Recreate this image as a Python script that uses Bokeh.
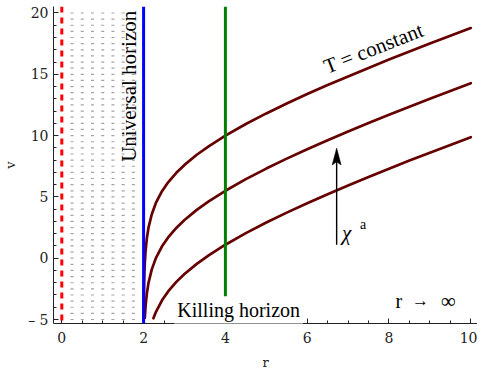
import numpy as np
from bokeh.plotting import figure
from bokeh.models import Label, Span, SingleIntervalTicker, Range1d
from bokeh.embed import file_html
from bokeh.resources import INLINE

# ---- data: curves of T = constant (v vs r) ----
r_top = [2.003, 2.006, 2.01, 2.02, 2.03, 2.05, 2.08, 2.12, 2.2, 2.3, 2.45, 2.6, 2.8, 3.0, 3.3, 3.6,
         4.0, 4.5, 5.0, 5.5, 6.0, 6.5, 7.0, 7.5, 8.0, 8.5, 9.0, 9.5, 10.0]
v_top = [-5.00, -3.61, -2.59, -1.19, -0.37, 0.67, 1.64, 2.49, 3.59, 4.51, 5.47, 6.19, 6.97, 7.61, 8.44, 9.15,
         10.00, 10.95, 11.81, 12.62, 13.39, 14.12, 14.83, 15.52, 16.20, 16.86, 17.51, 18.14, 18.77]
r_mid = [2.03, 2.05, 2.08, 2.12, 2.2, 2.3, 2.45, 2.6, 2.8, 3.0, 3.3, 3.6,
         4.0, 4.5, 5.0, 5.5, 6.0, 6.5, 7.0, 7.5, 8.0, 8.5, 9.0, 9.5, 10.0]
v_mid = [-4.87, -3.83, -2.86, -2.01, -0.91, 0.01, 0.97, 1.69, 2.47, 3.11, 3.94, 4.65,
         5.50, 6.45, 7.31, 8.12, 8.89, 9.62, 10.33, 11.02, 11.70, 12.36, 13.01, 13.64, 14.27]
r_bot = [2.24, 2.3, 2.45, 2.6, 2.8, 3.0, 3.3, 3.6, 4.0, 4.5, 5.0, 5.5, 6.0, 6.5, 7.0, 7.5, 8.0, 8.5, 9.0, 9.5, 10.0]
v_bot = [-4.90, -4.39, -3.43, -2.71, -1.93, -1.29, -0.46, 0.25, 1.10, 2.05, 2.91, 3.72, 4.49, 5.22, 5.93, 6.62,
         7.30, 7.96, 8.61, 9.24, 9.87]

# vertical lines
r_singularity = 0
r_universal = 2
r_killing = 4

# hatched (dotted) region between r = 0 and r = 2
hatch_cols = [0.25, 0.5, 0.75, 1.0, 1.25, 1.5, 1.75]
hatch_rows = [v / 2 for v in range(-10, 41)]

x_ticks_interval = 2
y_ticks_interval = 5

SERIF = "Liberation Serif"
TICKF = "DejaVu Serif"

X0, X1 = -0.203, 10.164
Y0, Y1 = -5.325, 20.53

p = figure(width=477, height=372, x_range=Range1d(X0, X1), y_range=Range1d(Y0, Y1),
           output_backend="svg", toolbar_location=None,
           min_border_left=53, min_border_right=0, min_border_top=6, min_border_bottom=48)
p.outline_line_color = None
p.grid.visible = False
p.background_fill_color = "white"

# dotted hatch
hx, hy = np.meshgrid(hatch_cols, hatch_rows)
p.scatter(hx.ravel(), hy.ravel(), marker="dash", size=3, line_color="#a3a3a3", line_width=1.2)

# vertical lines
p.add_layout(Span(location=r_singularity, dimension="height", line_color="red", line_width=3, line_dash="6 5"))
p.add_layout(Span(location=r_universal, dimension="height", line_color="blue", line_width=3))
p.add_layout(Span(location=r_killing, dimension="height", line_color="#008000", line_width=3))

# curves
curve_color = "#660000"
for rr, vv in [(r_top, v_top), (r_mid, v_mid), (r_bot, v_bot)]:
    p.line(rr, vv, line_color=curve_color, line_width=2.7, line_join="round", line_cap="round")

# arrow chi^a
ax, ay0, ay1 = 6.72, 1.10, 8.98
p.line([ax, ax], [ay0, ay1 - 1.1], line_color="black", line_width=1.4)
p.patch([ax, ax - 0.11, ax, ax + 0.11], [ay1, ay1 - 1.38, ay1 - 1.12, ay1 - 1.38],
        fill_color="black", line_color="black", line_width=0.5)

# texts
p.add_layout(Label(x=1.64, y=14.02, text="Universal horizon", angle=np.pi / 2, text_align="center",
                   text_baseline="alphabetic", text_font=SERIF, text_font_size="21px", text_color="black"))
p.add_layout(Label(x=2.75, y=-4.25, text="Killing horizon", text_align="left", text_baseline="alphabetic",
                   text_font=SERIF, text_font_size="20px", text_color="black",
                   background_fill_color="white", padding=3))
p.add_layout(Label(x=6.43, y=15.56, text="T = constant", angle=np.radians(21.5), text_align="left",
                   text_baseline="alphabetic", text_font=SERIF, text_font_size="21px", text_color="black"))
p.add_layout(Label(x=6.85, y=2.05, text="χ", text_align="left", text_baseline="alphabetic",
                   text_font=SERIF, text_font_style="italic", text_font_size="21px", text_color="black"))
p.add_layout(Label(x=7.29, y=2.75, text="a", text_align="left", text_baseline="alphabetic",
                   text_font=SERIF, text_font_size="14px", text_color="black"))
p.add_layout(Label(x=8.16, y=-3.45, text="r", text_align="left", text_baseline="alphabetic",
                   text_font=SERIF, text_font_size="20px", text_color="black"))
p.add_layout(Label(x=8.77, y=-3.45, text="→", text_align="center", text_baseline="alphabetic",
                   text_font=SERIF, text_font_size="17px", text_color="black"))
p.add_layout(Label(x=9.45, y=-3.45, text="∞", text_align="center", text_baseline="alphabetic",
                   text_font=SERIF, text_font_size="21px", text_color="black"))

# axes
p.xaxis.ticker = SingleIntervalTicker(interval=x_ticks_interval, num_minor_ticks=4)
p.yaxis.ticker = SingleIntervalTicker(interval=y_ticks_interval, num_minor_ticks=5)
p.yaxis.major_label_overrides = {-5: "– 5"}
for ax_ in (p.xaxis, p.yaxis):
    ax_.major_tick_in = 5
    ax_.major_tick_out = 0
    ax_.minor_tick_in = 3
    ax_.minor_tick_out = 0
    ax_.axis_line_color = "#222222"
    ax_.major_tick_line_color = "#222222"
    ax_.minor_tick_line_color = "#222222"
    ax_.major_label_text_font = TICKF
    ax_.major_label_text_font_size = "14px"
    ax_.major_label_text_color = "#222222"
    ax_.axis_label_text_font = TICKF
    ax_.axis_label_text_font_size = "13px"
    ax_.axis_label_text_font_style = "normal"
    ax_.axis_label_text_color = "#222222"
p.xaxis.axis_label = "r"
p.yaxis.axis_label = "v"
p.xaxis.major_label_standoff = 8
p.xaxis.axis_label_standoff = 9
p.yaxis.major_label_standoff = 5
p.yaxis.axis_label_standoff = 7

open("out.html", "w").write(file_html(p, INLINE))
